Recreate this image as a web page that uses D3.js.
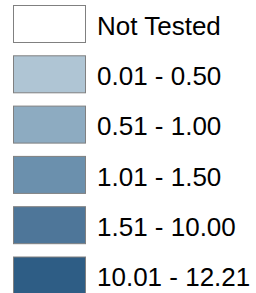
<!DOCTYPE html>
<html>
<head>
<meta charset="utf-8">
<script src="https://cdn.jsdelivr.net/npm/d3@7"></script>
<style>
  body { margin: 0; background: #fff; }
  text { font-family: "Liberation Sans", Arial, sans-serif; }
</style>
</head>
<body>
<div id="legend"></div>
<script>
var labels = ["Not Tested", "0.01 - 0.50", "0.51 - 1.00", "1.01 - 1.50", "1.51 - 10.00", "10.01 - 12.21"];
var colors = ["#ffffff", "#afc5d4", "#8dabc1", "#6b90ad", "#4e7699", "#2e5d85"];

var width = 256, height = 293;

var svg = d3.select("#legend").append("svg")
    .attr("width", width)
    .attr("height", height);

// one row per class
var y = d3.scaleBand()
    .domain(labels)
    .range([5, 5 + labels.length * 50.3])
    .padding(0);

var color = d3.scaleOrdinal()
    .domain(labels)
    .range(colors);

var row = svg.selectAll("g.row")
    .data(labels)
    .enter().append("g")
    .attr("class", "row")
    .attr("transform", function(d) { return "translate(0," + y(d) + ")"; });

row.append("rect")
    .attr("x", 13.5)
    .attr("y", 0.5)
    .attr("width", 72)
    .attr("height", 37)
    .style("fill", function(d) { return color(d); })
    .style("stroke", "#808080")
    .style("stroke-width", 1);

row.append("text")
    .attr("x", 97)
    .attr("y", 29.7)
    .style("font-size", "26px")
    .style("fill", "#000")
    .text(function(d) { return d; });
</script>
</body>
</html>
